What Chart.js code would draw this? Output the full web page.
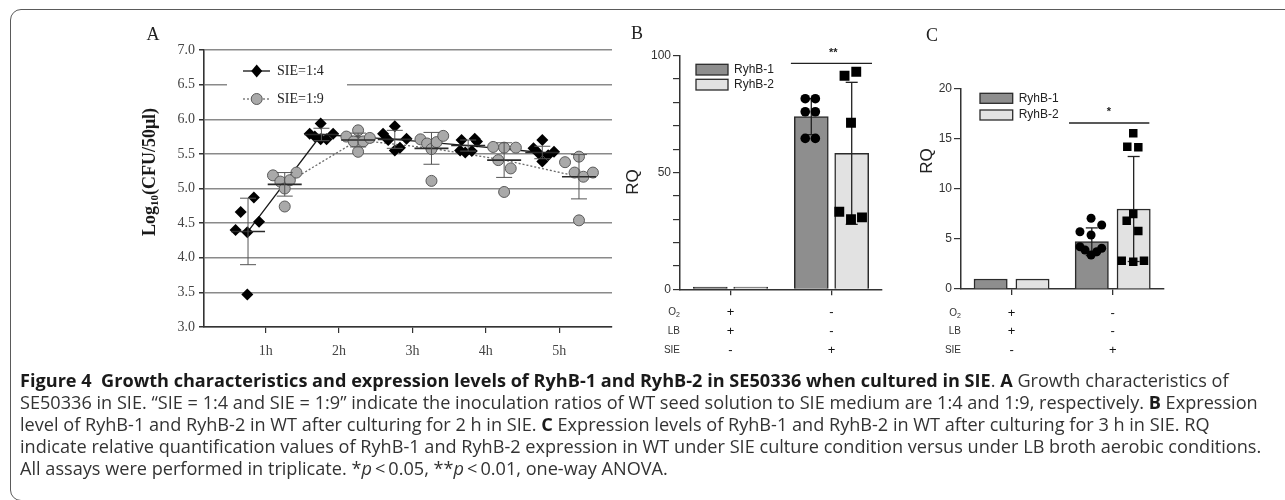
<!DOCTYPE html>
<html>
<head>
<meta charset="utf-8">
<script src="https://cdn.jsdelivr.net/npm/chart.js@4.4.1/dist/chart.umd.min.js"></script>
<style>
  body { margin:0; width:1285px; height:500px; background:#fff; position:relative; overflow:hidden; }
  .frame { position:absolute; left:10px; top:9px; width:1300px; height:492px; border:1.5px solid #5a5a5a; border-radius:11px; box-sizing:border-box; }
  canvas { position:absolute; }
  .tag { position:absolute; font-family:'Liberation Serif', 'Times New Roman', serif; font-size:18px; color:#222; transform:translate(-50%,-50%); }
  #caption { position:absolute; left:20px; top:369px; font-family:'Open Sans', sans-serif; font-size:15px; color:#333; }
  #caption div { white-space:nowrap; line-height:22px; height:22px; }
  #caption b { color:#1a1a1a; }
</style>
</head>
<body>
<div class="frame"></div>
<canvas id="chartA" width="520" height="345" style="left:100px;top:20px"></canvas>
<canvas id="chartB" width="300" height="350" style="left:600px;top:20px"></canvas>
<canvas id="chartC" width="290" height="350" style="left:900px;top:20px"></canvas>
<span class="tag" style="left:153px;top:34px">A</span>
<span class="tag" style="left:637px;top:33px">B</span>
<span class="tag" style="left:932px;top:35px">C</span>
<div id="caption">
  <div><span><b>Figure 4&nbsp; Growth characteristics and expression levels of RyhB-1 and RyhB-2 in SE50336 when cultured in SIE</b>. <b>A</b> Growth characteristics of</span></div>
  <div><span>SE50336 in SIE. “SIE = 1:4 and SIE = 1:9” indicate the inoculation ratios of WT seed solution to SIE medium are 1:4 and 1:9, respectively. <b>B</b> Expression</span></div>
  <div><span>level of RyhB-1 and RyhB-2 in WT after culturing for 2 h in SIE. <b>C</b> Expression levels of RyhB-1 and RyhB-2 in WT after culturing for 3 h in SIE. RQ</span></div>
  <div><span id="capRef">indicate relative quantification values of RyhB-1 and RyhB-2 expression in WT under SIE culture condition versus under LB broth aerobic conditions.</span></div>
  <div><span>All assays were performed in triplicate. *<i>p</i>&thinsp;&lt;&thinsp;0.05, **<i>p</i>&thinsp;&lt;&thinsp;0.01, one-way ANOVA.</span></div>
</div>
<script>
// ---- panel A: growth, log10(CFU/50ul) ----
const hourTicks = [1, 2, 3, 4, 5];

// SIE=1:4 replicates (x = hours incl. jitter, y = log10 CFU)
const sie14X = [0.59, 0.66, 0.84, 0.75, 0.91, 0.75,  1.60, 1.67, 1.75, 1.83, 1.92, 1.75,
                2.60, 2.67, 2.76, 2.76, 2.83, 2.92,  3.65, 3.67, 3.72, 3.81, 3.85, 3.88,
                4.65, 4.72, 4.77, 4.77, 4.85, 4.93];
const sie14Y = [4.40, 4.66, 4.87, 4.37, 4.52, 3.47,  5.79, 5.75, 5.71, 5.71, 5.79, 5.94,
                5.79, 5.70, 5.90, 5.55, 5.59, 5.72,  5.55, 5.70, 5.52, 5.54, 5.72, 5.68,
                5.58, 5.51, 5.70, 5.39, 5.48, 5.53];
const sie14MeanX = [0.76, 1.76, 2.76, 3.76, 4.77];
const sie14Mean = [4.38, 5.78, 5.71, 5.62, 5.52];
const sie14Sd = [0.48, 0.09, 0.13, 0.08, 0.09];

// SIE=1:9 replicates
const sie19X = [1.10, 1.20, 1.26, 1.33, 1.42, 1.26,  2.10, 2.20, 2.26, 2.33, 2.42, 2.26,
                3.11, 3.20, 3.26, 3.33, 3.42, 3.26,  4.10, 4.17, 4.25, 4.34, 4.41, 4.25,
                5.08, 5.21, 5.27, 5.33, 5.46, 5.27];
const sie19Y = [5.19, 5.10, 5.00, 5.12, 5.23, 4.74,  5.75, 5.68, 5.84, 5.68, 5.73, 5.53,
                5.71, 5.65, 5.57, 5.67, 5.76, 5.11,  5.60, 5.41, 5.59, 5.29, 5.59, 4.95,
                5.38, 5.23, 5.46, 5.17, 5.23, 4.54];
const sie19MeanX = [1.26, 2.26, 3.26, 4.25, 5.27];
const sie19Mean = [5.06, 5.70, 5.58, 5.41, 5.17];
const sie19Sd = [0.17, 0.10, 0.23, 0.25, 0.32];

// ---- panels B and C: RQ bars ----
const groupLabels = [['+', '+', '-'], ['-', '-', '+']];
const rowNames = ['O', 'LB', 'SIE'];
const rowSubs = ['2', '', ''];

const bRyhB1 = [1.0, 73.9];
const bRyhB1Sd = [0, 7.7];
const bRyhB2 = [1.0, 58.2];
const bRyhB2Sd = [0, 30.4];
const bDotsX = [0.74, 0.84, 0.74, 0.84, 0.74, 0.84];
const bDotsY = [81.6, 81.6, 76.0, 76.0, 64.6, 64.6];
const bSquaresX = [1.129, 1.245, 1.193, 1.077, 1.193, 1.302];
const bSquaresY = [91.4, 93.1, 71.3, 33.2, 30.0, 30.8];
const bSig = { from: 0.598, to: 1.401, y: 96.7, label: '**', labelX: 1.017, labelY: 101 };

const cRyhB1 = [1.0, 4.73];
const cRyhB1Sd = [0, 1.38];
const cRyhB2 = [1.0, 8.0];
const cRyhB2Sd = [0, 5.25];
const cDotsX = [0.786, 0.676, 0.891, 0.786, 0.676, 0.726, 0.786, 0.842, 0.891];
const cDotsY = [7.07, 5.73, 6.40, 5.40, 4.23, 3.90, 3.40, 3.73, 4.07];
const cSquaresX = [1.203, 1.144, 1.253, 1.203, 1.138, 1.253, 1.089, 1.203, 1.309];
const cSquaresY = [15.57, 14.23, 14.17, 7.50, 6.83, 5.80, 2.83, 2.73, 2.83];
const cSig = { from: 0.568, to: 1.362, y: 16.6, label: '*', labelX: 0.963, labelY: 17.7 };

Chart.defaults.font.family = "'Liberation Sans', Arial, sans-serif";
Chart.defaults.color = '#333';
Chart.defaults.animation = false;

const serif = "'Liberation Serif', 'Times New Roman', serif";
const dark1 = '#8e8e8e', light2 = '#e2e2e2', edge = '#2b2b2b';

function pts(xs, ys) {
    return xs.map((x, i) => ({ x: x, y: ys[i] }));
}

function seg(ctx, x1, y1, x2, y2) {
    ctx.beginPath();
    ctx.moveTo(x1, y1);
    ctx.lineTo(x2, y2);
    ctx.stroke();
}

// mean + SD marks and legend/axis title for panel A
const panelAExtras = {
    id: 'panelAExtras',
    afterDatasetsDraw(chart) {
        const { ctx, scales: { x, y } } = chart;
        ctx.save();
        [[sie14MeanX, sie14Mean, sie14Sd], [sie19MeanX, sie19Mean, sie19Sd]].forEach(([mx, m, sd]) => {
            m.forEach((v, i) => {
                const px = x.getPixelForValue(mx[i]);
                const pm = y.getPixelForValue(v);
                const pt = y.getPixelForValue(v + sd[i]);
                const pb = y.getPixelForValue(v - sd[i]);
                ctx.strokeStyle = '#2a2a2a';
                ctx.lineWidth = 1.6;
                seg(ctx, px - 17, pm, px + 17, pm);
                ctx.strokeStyle = '#555';
                ctx.lineWidth = 1;
                seg(ctx, px, pt, px, pb);
                seg(ctx, px - 8, pt, px + 8, pt);
                seg(ctx, px - 8, pb, px + 8, pb);
            });
        });
        ctx.restore();
    },
    afterDraw(chart) {
        const { ctx, chartArea } = chart;
        const lx = chartArea.left;
        const ty = chartArea.top;
        ctx.save();
        // legend box
        ctx.fillStyle = '#fff';
        ctx.fillRect(lx + 23, ty + 12, 120, 46);
        ctx.font = '14px ' + serif;
        ctx.textBaseline = 'middle';
        ctx.fillStyle = '#222';
        // SIE=1:4
        let ly = ty + 21;
        ctx.strokeStyle = '#111';
        ctx.lineWidth = 1.3;
        seg(ctx, lx + 39, ly, lx + 66, ly);
        ctx.beginPath();
        ctx.moveTo(lx + 52.7, ly - 6.5);
        ctx.lineTo(lx + 58.2, ly);
        ctx.lineTo(lx + 52.7, ly + 6.5);
        ctx.lineTo(lx + 47.2, ly);
        ctx.closePath();
        ctx.fillStyle = '#000';
        ctx.fill();
        ctx.fillStyle = '#222';
        ctx.fillText('SIE=1:4', lx + 73, ly);
        // SIE=1:9
        ly = ty + 49;
        ctx.strokeStyle = '#6a6a6a';
        ctx.setLineDash([2, 2]);
        seg(ctx, lx + 39, ly, lx + 66, ly);
        ctx.setLineDash([]);
        ctx.beginPath();
        ctx.arc(lx + 52.7, ly, 5.5, 0, Math.PI * 2);
        ctx.fillStyle = '#a9a9a9';
        ctx.fill();
        ctx.strokeStyle = '#5a5a5a';
        ctx.lineWidth = 1;
        ctx.stroke();
        ctx.fillStyle = '#222';
        ctx.fillText('SIE=1:9', lx + 73, ly);

        // y title with subscript
        ctx.translate(50, 152);
        ctx.rotate(-Math.PI / 2);
        const big = 'bold 18px ' + serif, small = 'bold 11px ' + serif;
        ctx.font = big;
        const w1 = ctx.measureText('Log').width;
        const w3 = ctx.measureText('(CFU/50μl)').width;
        ctx.font = small;
        const w2 = ctx.measureText('10').width;
        let sx = -(w1 + w2 + w3) / 2;
        ctx.textAlign = 'left';
        ctx.fillStyle = '#1a1a1a';
        ctx.font = big;
        ctx.fillText('Log', sx, 0);
        ctx.font = small;
        ctx.fillText('10', sx + w1, 5);
        ctx.font = big;
        ctx.fillText('(CFU/50μl)', sx + w1 + w2, 0);
        ctx.restore();
    }
};

new Chart(document.getElementById('chartA'), {
    type: 'scatter',
    data: {
        datasets: [
            { type: 'line', data: pts(sie14MeanX, sie14Mean), borderColor: '#1a1a1a', borderWidth: 1.3, pointRadius: 0, fill: false, order: 3 },
            { type: 'line', data: pts(sie19MeanX, sie19Mean), borderColor: '#6a6a6a', borderWidth: 1.3, borderDash: [2, 2], pointRadius: 0, fill: false, order: 3 },
            { label: 'SIE=1:9', data: pts(sie19X, sie19Y), pointStyle: 'circle', pointRadius: 5.5, backgroundColor: '#a9a9a9', borderColor: '#5a5a5a', borderWidth: 1, order: 2 },
            { label: 'SIE=1:4', data: pts(sie14X, sie14Y), pointStyle: 'rectRot', pointRadius: 6, backgroundColor: '#000', borderColor: '#000', borderWidth: 0, order: 1 }
        ]
    },
    options: {
        responsive: false,
        layout: { padding: { top: 30, right: 8, left: 0, bottom: 0 } },
        plugins: { legend: { display: false }, tooltip: { enabled: false } },
        scales: {
            x: {
                type: 'linear', min: 0.16, max: 5.72,
                afterBuildTicks: s => { s.ticks = hourTicks.map(v => ({ value: v })); },
                ticks: { callback: v => v + 'h', font: { family: serif, size: 14 }, color: '#444', padding: 10, maxRotation: 0 },
                grid: { drawOnChartArea: false, tickLength: 6, color: '#333', lineWidth: 1.2 },
                border: { color: '#333', width: 1.6 },
                afterFit: s => { s.height = 38; }
            },
            y: {
                min: 3, max: 7,
                ticks: { stepSize: 0.5, callback: v => v.toFixed(1), font: { family: serif, size: 14 }, color: '#444', padding: 4 },
                grid: { color: '#8a8a8a', lineWidth: 1.5, tickLength: 5, tickColor: '#333' },
                border: { color: '#333', width: 1.6 },
                afterFit: s => { s.width = 104; }
            }
        }
    },
    plugins: [panelAExtras]
});

// bar panels (B and C) share one builder
function barPanel(id, cfg) {
    const extras = {
        id: 'extras' + id,
        afterDatasetDraw(chart, args) {
            if (args.index !== 0) return;
            const { ctx, scales: { y } } = chart;
            ctx.save();
            ctx.strokeStyle = '#222';
            ctx.lineWidth = 1.3;
            [[0, cfg.v1, cfg.sd1], [1, cfg.v2, cfg.sd2]].forEach(([di, vals, sds]) => {
                const meta = chart.getDatasetMeta(di);
                vals.forEach((v, i) => {
                    if (!sds[i]) return;
                    const px = meta.data[i].x;
                    const pt = y.getPixelForValue(v + sds[i]);
                    const pb = y.getPixelForValue(v - sds[i]);
                    seg(ctx, px, pt, px, pb);
                    seg(ctx, px - 6, pt, px + 6, pt);
                    seg(ctx, px - 6, pb, px + 6, pb);
                });
            });
            ctx.restore();
        },
        afterDraw(chart) {
            const { ctx, chartArea, scales: { x2, y } } = chart;
            ctx.save();
            // significance bar
            ctx.strokeStyle = '#222';
            ctx.lineWidth = 1.3;
            const sy = y.getPixelForValue(cfg.sig.y);
            seg(ctx, x2.getPixelForValue(cfg.sig.from), sy, x2.getPixelForValue(cfg.sig.to), sy);
            ctx.fillStyle = '#222';
            ctx.font = 'bold 11px "Liberation Sans", Arial';
            ctx.textAlign = 'center';
            ctx.textBaseline = 'middle';
            ctx.fillText(cfg.sig.label, x2.getPixelForValue(cfg.sig.labelX), y.getPixelForValue(cfg.sig.labelY));

            // legend
            const names = ['RyhB-1', 'RyhB-2'];
            const fills = [dark1, light2];
            ctx.font = '12px "Liberation Sans", Arial';
            ctx.textAlign = 'left';
            names.forEach((n, i) => {
                const by = cfg.legY + i * cfg.legStep;
                ctx.fillStyle = fills[i];
                ctx.fillRect(cfg.legX, by, cfg.legW, cfg.legH);
                ctx.strokeStyle = edge;
                ctx.lineWidth = 1.3;
                ctx.strokeRect(cfg.legX, by, cfg.legW, cfg.legH);
                ctx.fillStyle = '#222';
                ctx.fillText(n, cfg.legX + cfg.legW + 6, by + cfg.legH / 2);
            });

            // condition row names under the axis
            ctx.textAlign = 'right';
            ctx.fillStyle = '#333';
            const xr = chartArea.left;
            rowNames.forEach((n, i) => {
                const ry = chartArea.bottom + cfg.rowFirst + i * cfg.rowStep;
                let off = 0;
                if (rowSubs[i]) {
                    ctx.font = '7px "Liberation Sans", Arial';
                    off = ctx.measureText(rowSubs[i]).width;
                    ctx.fillText(rowSubs[i], xr, ry + 3);
                }
                ctx.font = '10px "Liberation Sans", Arial';
                ctx.fillText(n, xr - off, ry);
            });

            // RQ title
            ctx.translate(cfg.rqX, cfg.rqY);
            ctx.rotate(-Math.PI / 2);
            ctx.textAlign = 'center';
            ctx.font = '17px "Liberation Sans", Arial';
            ctx.fillStyle = '#222';
            ctx.fillText('RQ', 0, 0);
            ctx.restore();
        }
    };

    // bars sit on the hidden linear axis: group index shifted left/right
    const barData = (vals, dir) => vals.map((v, i) => ({ x: i + dir * cfg.shift, y: v }));

    new Chart(document.getElementById(id), {
        type: 'bar',
        data: {
            labels: groupLabels,
            datasets: [
                { label: 'RyhB-1', data: barData(cfg.v1, -1), backgroundColor: dark1, borderColor: edge, borderWidth: 1.5,
                  xAxisID: 'x2', grouped: false, barThickness: cfg.barW, order: 2 },
                { label: 'RyhB-2', data: barData(cfg.v2, 1), backgroundColor: light2, borderColor: edge, borderWidth: 1.5,
                  xAxisID: 'x2', grouped: false, barThickness: cfg.barW, order: 2 },
                { type: 'scatter', data: pts(cfg.dotsX, cfg.dotsY), xAxisID: 'x2', pointStyle: 'circle', pointRadius: cfg.dotR,
                  backgroundColor: '#000', borderWidth: 0, order: 1 },
                { type: 'scatter', data: pts(cfg.sqX, cfg.sqY), xAxisID: 'x2', pointStyle: 'rect', pointRadius: cfg.sqR,
                  backgroundColor: '#000', borderWidth: 0, order: 1 }
            ]
        },
        options: {
            responsive: false,
            layout: { padding: { top: cfg.padTop, right: cfg.padRight, left: 0, bottom: 0 } },
            plugins: { legend: { display: false }, tooltip: { enabled: false } },
            scales: {
                x: {
                    type: 'category', offset: true,
                    grid: { offset: false, drawOnChartArea: false, tickLength: 6, color: '#333', lineWidth: 1.3 },
                    border: { color: '#333', width: 1.5 },
                    ticks: { font: { size: 13, lineHeight: cfg.rowStep / 13 }, color: '#111', padding: cfg.rowFirst - 6 - cfg.rowStep / 2, maxRotation: 0, autoSkip: false },
                    afterFit: s => { s.height = cfg.xh; }
                },
                x2: { type: 'linear', min: -0.5, max: 1.5, offset: false, display: false },
                y: {
                    min: 0, max: cfg.yMax,
                    ticks: { stepSize: cfg.step, callback: v => (v % cfg.major === 0 ? v : ''), font: { size: 12 }, color: '#333', padding: 2 },
                    grid: { drawOnChartArea: false, tickLength: 7, color: '#333', lineWidth: 1.2 },
                    border: { color: '#333', width: 1.5 },
                    afterFit: s => { s.width = cfg.yw; }
                }
            }
        },
        plugins: [extras]
    });
}

barPanel('chartB', {
    v1: bRyhB1, sd1: bRyhB1Sd, v2: bRyhB2, sd2: bRyhB2Sd,
    dotsX: bDotsX, dotsY: bDotsY, sqX: bSquaresX, sqY: bSquaresY, sig: bSig,
    dotR: 4.8, sqR: 7, shift: 0.2, barW: 34,
    yMax: 100, step: 10, major: 50,
    yw: 80, xh: 80.7, padTop: 35.7, padRight: 18,
    rowFirst: 23, rowStep: 19,
    legX: 96, legY: 44.3, legStep: 15, legW: 32, legH: 10.7,
    rqX: 33, rqY: 162
});

barPanel('chartC', {
    v1: cRyhB1, sd1: cRyhB1Sd, v2: cRyhB2, sd2: cRyhB2Sd,
    dotsX: cDotsX, dotsY: cDotsY, sqX: cSquaresX, sqY: cSquaresY, sig: cSig,
    dotR: 4.5, sqR: 6, shift: 0.207, barW: 33.3,
    yMax: 20, step: 5, major: 5,
    yw: 61, xh: 81, padTop: 69, padRight: 26.7,
    rowFirst: 24.3, rowStep: 18.4,
    legX: 80, legY: 73.3, legStep: 16.7, legW: 32.7, legH: 10,
    rqX: 27, rqY: 141
});

// caption: size the font so the longest line spans the same width as in the figure
const capRef = document.getElementById('capRef');
const natural = capRef.getBoundingClientRect().width;
document.getElementById('caption').style.fontSize = (15 * 1242 / natural).toFixed(2) + 'px';
</script>
</body>
</html>
